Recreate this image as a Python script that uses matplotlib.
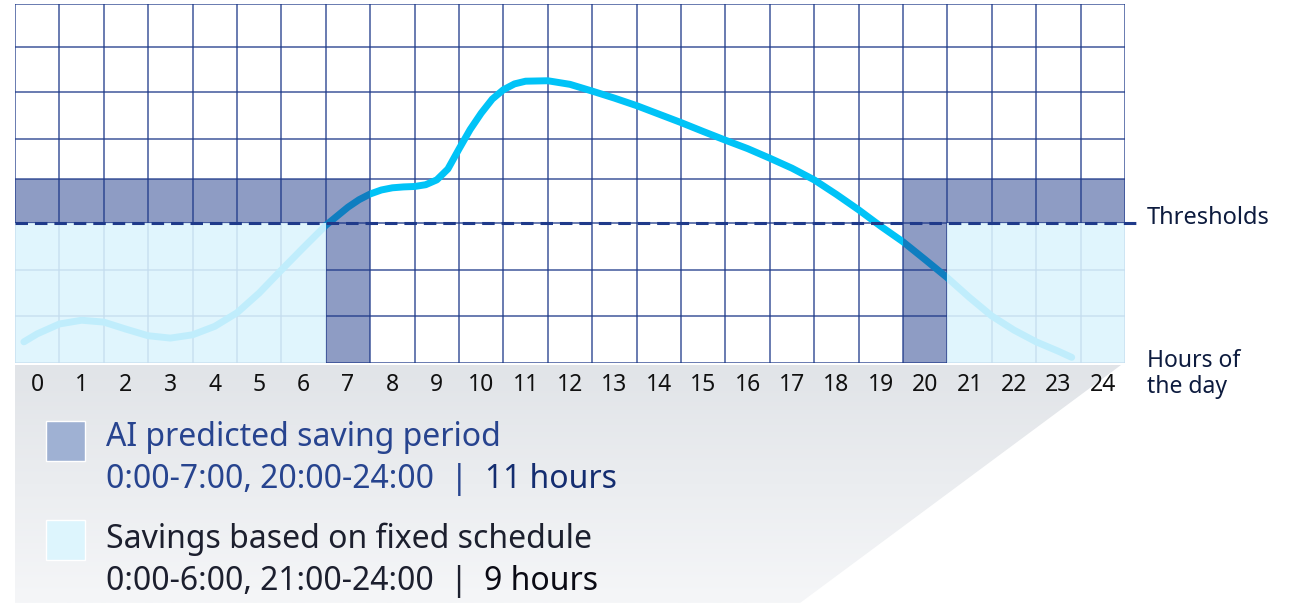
import numpy as np
import matplotlib
matplotlib.use('Agg')
import matplotlib.pyplot as plt
from matplotlib.patches import Rectangle, Polygon

plt.rcParams['font.family'] = ['Noto Sans', 'DejaVu Sans']
plt.rcParams['lines.scale_dashes'] = False

# data
hours = list(range(25))
hour_labels = [str(h) for h in hours]

# traffic curve (hour, grid rows)
curve_x = [-0.3, 0.0, 0.5, 1.0, 1.5, 2.0, 2.5, 3.0, 3.5, 4.0, 4.5, 5.0, 5.5, 6.0,
           6.5, 7.0, 7.25, 7.5, 7.75, 8.0, 8.25, 8.5, 8.75, 9.0, 9.25, 9.5, 9.75,
           10.0, 10.25, 10.5, 10.75, 11.0, 11.5, 12.0, 12.5,
           13.0, 13.5, 14.0, 14.5, 15.0, 15.5, 16.0, 16.5, 17.0, 17.5, 18.0, 18.5,
           19.0, 19.5, 20.0, 20.5, 21.0, 21.5, 22.0, 22.5, 23.0, 23.3]
curve_y = [0.45, 0.62, 0.83, 0.91, 0.87, 0.72, 0.58, 0.53, 0.60, 0.78, 1.07, 1.50, 2.00, 2.48,
           2.95, 3.36, 3.53, 3.66, 3.75, 3.80, 3.82, 3.83, 3.87, 3.98, 4.25, 4.75, 5.20,
           5.55, 5.85, 6.05, 6.18, 6.24, 6.25, 6.17, 6.02,
           5.87, 5.71, 5.53, 5.35, 5.16, 4.97, 4.76, 4.52, 4.27, 3.98, 3.65, 3.30,
           2.93, 2.60, 2.22, 1.83, 1.40, 1.00, 0.70, 0.45, 0.25, 0.12]

threshold = 3
ai_saving = [(0, 7), (20, 24)]       # AI predicted saving period (hour columns)
fixed_saving = [(0, 6), (21, 24)]    # fixed schedule savings

navy = '#1f3a8a'
cyan = '#00c3f7'
light = '#dcf4fd'

# the grid rows in the slide are not quite even, so map rows onto their heights
row_px = np.array([363, 316, 270, 223, 179, 139, 92, 47, 4])
row_frac = (363 - row_px) / 359.0
rows = np.arange(9)

def fwd(y):
    return np.interp(y, rows, row_frac)

def inv(f):
    return np.interp(f, row_frac, rows)

fig = plt.figure(figsize=(13.01, 6.03), dpi=100)

# background layer in pixel coords (gray gradient, legend, side labels)
bg = fig.add_axes([0, 0, 1, 1])
bg.set_xlim(0, 1301)
bg.set_ylim(603, 0)
bg.axis('off')
bg.set_zorder(-1)

band = Polygon([(15, 365), (1121, 365), (800, 603), (15, 603)], closed=True,
               facecolor='none', edgecolor='none')
bg.add_patch(band)
grad = np.linspace(0, 1, 100).reshape(-1, 1)
im = bg.imshow(grad, extent=[15, 1125, 603, 365], aspect='auto',
               cmap=matplotlib.colors.LinearSegmentedColormap.from_list('g', ['#e1e4e8', '#f5f6f8']),
               origin='upper')
im.set_clip_path(band)

# legend
bg.add_patch(Rectangle((46, 421), 39, 40, facecolor='#9fb1d3', edgecolor='white', lw=1))
bg.add_patch(Rectangle((46, 520), 39, 40, facecolor='#ddf5fd', edgecolor='white', lw=1))

lsize = 23
bg.text(106, 437, 'AI predicted saving period', fontsize=lsize, color='#27448f', va='center')
t1 = bg.text(106, 480, '0:00-7:00, 20:00-24:00  |  ', fontsize=lsize, color='#27448f', va='center')
bg.annotate('11 hours', xy=(1, 0), xycoords=t1, fontsize=lsize, color='#142d70', va='bottom')
bg.text(106, 539, 'Savings based on fixed schedule', fontsize=lsize, color='#1c1f2e', va='center')
t2 = bg.text(106, 581, '0:00-6:00, 21:00-24:00  |  ', fontsize=lsize, color='#1c1f2e', va='center')
bg.annotate('9 hours', xy=(1, 0), xycoords=t2, fontsize=lsize, color='#0a0a14', va='bottom')

bg.text(1147, 218, 'Thresholds', fontsize=17, color='#0d1b3e', va='center')
bg.text(1147, 374, 'Hours of\nthe day', fontsize=16.5, color='#0d1b3e', va='center',
        linespacing=1.15)

# main chart
ax = fig.add_axes([15 / 1301, 1 - 363 / 603, 1110 / 1301, 359 / 603])
ax.set_yscale('function', functions=(fwd, inv))
ax.set_xlim(-0.5, 24.5)
ax.set_ylim(0, 8)
ax.set_xticks(np.arange(-0.5, 25, 1), minor=True)
ax.set_xticks(hours, hour_labels)
ax.set_yticks(rows)
ax.set_yticks([], minor=True)
ax.set_yticklabels([])
ax.set_axisbelow(True)
ax.xaxis.grid(True, which='minor', color=navy, lw=1.1, alpha=0.85)
ax.xaxis.grid(False, which='major')
ax.yaxis.grid(True, which='major', color=navy, lw=1.1, alpha=0.85)
ax.tick_params(which='both', length=0)
ax.tick_params(axis='x', labelsize=16.5, pad=7, colors='#111111')
for s in ax.spines.values():
    s.set_visible(False)

ax.plot(curve_x, curve_y, color=cyan, lw=5, solid_capstyle='round', zorder=2)

def in_period(h, periods):
    return any(s <= h <= e for s, e in periods)

for s, e in ai_saving:
    ax.add_patch(Rectangle((s - 0.5, threshold), e - s + 1, 1, facecolor=navy,
                           alpha=0.5, lw=0, zorder=3))
for h in hours:
    if in_period(h, ai_saving) and not in_period(h, fixed_saving):
        ax.add_patch(Rectangle((h - 0.5, 0), 1, threshold, facecolor=navy,
                               alpha=0.5, lw=0, zorder=3))
for s, e in fixed_saving:
    ax.add_patch(Rectangle((s - 0.5, 0), e - s + 1, threshold, facecolor=light,
                           alpha=0.88, lw=0, zorder=3))

ax.plot([-0.5, 24.88], [threshold, threshold], color=navy, lw=2.2, dashes=(9, 5),
        zorder=4, clip_on=False)

fig.savefig('out.png', dpi=100)
